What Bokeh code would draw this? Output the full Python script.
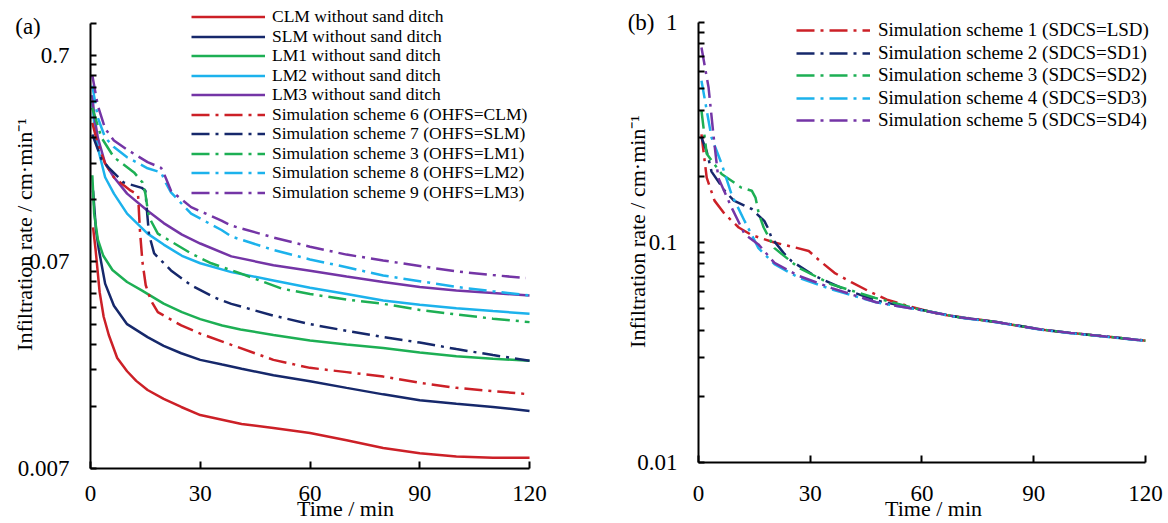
from bokeh.plotting import figure
from bokeh.models import (Range1d, FixedTicker, CustomJSTickFormatter, Legend, LegendItem)
from bokeh.layouts import row, column
from bokeh.embed import file_html
from bokeh.resources import INLINE

# ---------------- data : panel (a) ----------------
clm_t = [0.7, 1.4, 2.5, 3.6, 5, 7.3, 10, 12.5, 15.6, 20, 24.8, 30, 41.3, 50, 60, 70, 80, 90, 100, 110, 120]
clm_v = [0.103, 0.080, 0.050, 0.038, 0.031, 0.0240, 0.0207, 0.0186, 0.0168, 0.0152, 0.0139, 0.0127,
         0.0115, 0.0110, 0.0104, 0.0096, 0.0088, 0.0083, 0.0080, 0.0079, 0.0079]

slm_t = [0.7, 1.5, 2.3, 4, 6.4, 10, 15.6, 20, 24.8, 30, 36, 41.3, 50, 60, 70, 80, 90, 100, 110, 120]
slm_v = [0.155, 0.100, 0.080, 0.055, 0.043, 0.0350, 0.0303, 0.0275, 0.0253, 0.0235, 0.0223, 0.0213,
         0.0198, 0.0185, 0.0172, 0.0160, 0.0150, 0.0144, 0.0139, 0.0133]

lm1_t = [0.5, 1, 2, 3.5, 6, 10, 14, 20, 25, 30, 36, 41, 50, 60, 70, 80, 90, 100, 110, 120]
lm1_v = [0.184, 0.120, 0.090, 0.075, 0.064, 0.056, 0.051, 0.044, 0.040, 0.037, 0.0345, 0.0330,
         0.0310, 0.0292, 0.0279, 0.0268, 0.0255, 0.0245, 0.0238, 0.0233]

lm2_t = [0.5, 1, 2, 4, 6.4, 10, 15.6, 20, 25, 30, 38.5, 50, 60, 70, 80, 90, 100, 110, 120]
lm2_v = [0.42, 0.33, 0.25, 0.18, 0.15, 0.12, 0.096, 0.085, 0.075, 0.069, 0.0625, 0.057, 0.0525,
         0.049, 0.0456, 0.0435, 0.0418, 0.0405, 0.0393]

lm3_t = [0.5, 1, 2, 4, 6.4, 10, 15.6, 20, 25, 30, 38.5, 50, 60, 70, 80, 90, 100, 110, 120]
lm3_v = [0.45, 0.36, 0.28, 0.21, 0.18, 0.15, 0.124, 0.108, 0.095, 0.086, 0.0745, 0.0675, 0.0635,
         0.0595, 0.056, 0.053, 0.051, 0.0495, 0.0482]

s6_t = [0.5, 2, 4, 6.4, 9, 11, 13, 13.5, 14.2, 15.1, 16.5, 18.4, 24.8, 30, 38.5, 50, 60, 70, 80, 90, 100, 110, 120]
s6_v = [0.33, 0.26, 0.21, 0.18, 0.165, 0.155, 0.148, 0.10, 0.07, 0.054, 0.0456, 0.040, 0.0345, 0.0315,
        0.0278, 0.0235, 0.0215, 0.0205, 0.0195, 0.0182, 0.0172, 0.0166, 0.016]

s7_t = [0.5, 3, 5, 9, 14, 15, 15.5, 16, 17.4, 22, 27.5, 34, 38.5, 50, 60, 70, 80, 90, 100, 110, 120]
s7_v = [0.29, 0.22, 0.20, 0.17, 0.16, 0.155, 0.12, 0.095, 0.077, 0.0637, 0.054, 0.047, 0.0439, 0.0385,
        0.035, 0.0325, 0.0303, 0.0285, 0.0265, 0.0248, 0.0233]

s3_t = [0.5, 3, 6.4, 11.9, 14.2, 15, 15.8, 16.5, 18.4, 22, 27.5, 33, 41, 52.3, 60, 70, 80, 90, 100, 110, 120]
s3_v = [0.39, 0.28, 0.225, 0.19, 0.17, 0.15, 0.12, 0.111, 0.096, 0.088, 0.077, 0.069, 0.0616, 0.052,
        0.049, 0.046, 0.0439, 0.041, 0.039, 0.0372, 0.0358]

s8_t = [0.5, 2, 4, 6.4, 10, 15.6, 19.3, 20.5, 22, 27.5, 35.8, 38.5, 50, 60, 70, 80, 90, 100, 110, 120]
s8_v = [0.50, 0.35, 0.28, 0.252, 0.225, 0.199, 0.19, 0.17, 0.152, 0.12, 0.100, 0.093, 0.080, 0.072,
        0.066, 0.0602, 0.0565, 0.053, 0.0505, 0.0482]

s9_t = [0.5, 2, 4, 6.4, 10, 15.6, 19.3, 20.5, 22, 27.5, 35.8, 38.5, 50, 60, 70, 80, 90, 100, 110, 119]
s9_v = [0.56, 0.40, 0.31, 0.271, 0.245, 0.213, 0.20, 0.18, 0.155, 0.129, 0.111, 0.105, 0.092, 0.083,
        0.076, 0.0712, 0.067, 0.063, 0.0605, 0.0585]

# ---------------- data : panel (b) ----------------
b1_t = [0.8, 2.2, 4.3, 7.0, 10.8, 14.3, 20.4, 24.8, 29.6, 32.4, 36.5, 41, 45.7, 50.6, 56.3, 65, 80, 92, 100, 110, 120]
b1_v = [0.31, 0.197, 0.155, 0.135, 0.117, 0.108, 0.100, 0.096, 0.0915, 0.083, 0.0728, 0.066, 0.0601,
        0.055, 0.0514, 0.0471, 0.0435, 0.0402, 0.0388, 0.0373, 0.0358]

b2_t = [0.8, 2.2, 3.5, 7.0, 9.5, 14.3, 17.7, 18.8, 19.6, 23.1, 25, 31.2, 39.1, 47.7, 60, 70, 80, 92, 100, 110, 120]
b2_v = [0.30, 0.26, 0.21, 0.172, 0.155, 0.142, 0.125, 0.115, 0.105, 0.0887, 0.0823, 0.0705, 0.0614,
        0.0545, 0.0493, 0.0457, 0.0435, 0.0402, 0.0388, 0.0373, 0.0358]

b3_t = [0.8, 2.2, 6.2, 11.4, 14.3, 15.3, 16.2, 17.5, 20.4, 26.9, 35.8, 47.3, 60, 70, 80, 92, 100, 110, 120]
b3_v = [0.397, 0.253, 0.205, 0.178, 0.172, 0.16, 0.135, 0.117, 0.0943, 0.0768, 0.0644, 0.0561,
        0.0493, 0.0457, 0.0435, 0.0402, 0.0388, 0.0373, 0.0358]

b4_t = [0.8, 3.5, 6.2, 8.9, 12.4, 16.1, 20.4, 26.9, 35.8, 47.7, 60, 70, 80, 92, 100, 110, 120]
b4_v = [0.544, 0.30, 0.228, 0.165, 0.125, 0.0943, 0.0797, 0.0692, 0.0612, 0.0535, 0.0492, 0.0456,
        0.0434, 0.0401, 0.0387, 0.0372, 0.0357]

b5_t = [0.8, 2.7, 4.0, 5.3, 8.9, 12.4, 16.1, 20.4, 26.9, 35.8, 47.7, 60, 70, 80, 92, 100, 110, 120]
b5_v = [0.77, 0.507, 0.31, 0.197, 0.144, 0.109, 0.098, 0.0808, 0.0705, 0.062, 0.0535, 0.0492,
        0.0457, 0.0435, 0.0402, 0.0388, 0.0373, 0.0358]

# ---------------- ticks and tick labels ----------------
NB = "\u00a0"
x_ticks = [0, 30, 60, 90, 120]
a_label_ticks = [0.007, 0.07, 0.7, 0.972]
a_tick_labels = ["0.007", "0.07", "0.7", "(a)" + NB * 5]
a_tick_marks = [0.007, 0.014, 0.021, 0.028, 0.035, 0.042, 0.049, 0.056, 0.063,
                0.07, 0.14, 0.21, 0.28, 0.35, 0.42, 0.49, 0.56, 0.63, 0.7, 1.0]
b_label_ticks = [0.01, 0.1, 1]
b_tick_labels = ["0.01", "0.1", "(b)" + NB * 2 + "1"]
b_tick_marks = [0.01, 0.02, 0.03, 0.04, 0.05, 0.06, 0.07, 0.08, 0.09,
                0.1, 0.2, 0.3, 0.4, 0.5, 0.6, 0.7, 0.8, 0.9, 1.0]

RED = "#CC2027"
NAVY = "#16286B"
GREEN = "#1DAF54"
LBLUE = "#1CB2EC"
PURPLE = "#7435A6"
DASH = "18 6 3 6"
SERIF = "Liberation Serif"
YTITLE = "Infiltration rate / cm\u00b7min\u207b\u00b9"

a_series = [
    ("CLM without sand ditch", clm_t, clm_v, RED, "solid"),
    ("SLM without sand ditch", slm_t, slm_v, NAVY, "solid"),
    ("LM1 without sand ditch", lm1_t, lm1_v, GREEN, "solid"),
    ("LM2 without sand ditch", lm2_t, lm2_v, LBLUE, "solid"),
    ("LM3 without sand ditch", lm3_t, lm3_v, PURPLE, "solid"),
    ("Simulation scheme 6 (OHFS=CLM)", s6_t, s6_v, RED, DASH),
    ("Simulation scheme 7 (OHFS=SLM)", s7_t, s7_v, NAVY, DASH),
    ("Simulation scheme 3 (OHFS=LM1)", s3_t, s3_v, GREEN, DASH),
    ("Simulation scheme 8 (OHFS=LM2)", s8_t, s8_v, LBLUE, DASH),
    ("Simulation scheme 9 (OHFS=LM3)", s9_t, s9_v, PURPLE, DASH),
]
b_series = [
    ("Simulation scheme 1 (SDCS=LSD)", b1_t, b1_v, RED, DASH),
    ("Simulation scheme 2 (SDCS=SD1)", b2_t, b2_v, NAVY, DASH),
    ("Simulation scheme 3 (SDCS=SD2)", b3_t, b3_v, GREEN, DASH),
    ("Simulation scheme 4 (SDCS=SD3)", b4_t, b4_v, LBLUE, DASH),
    ("Simulation scheme 5 (SDCS=SD4)", b5_t, b5_v, PURPLE, DASH),
]


def make_panel(width, height, bl, bb, x_end, y_lo, y_hi, y_top, label_ticks, tick_labels,
               tick_marks, series, xlab_standoff, xtitle_standoff, ytitle_standoff,
               leg_x, leg_y0, leg_dy, leg_font, leg_h, glyph_w, leg_standoff):
    p = figure(width=width, height=height, x_range=Range1d(0, x_end), y_range=Range1d(y_lo, y_hi),
               y_axis_type="log", output_backend="svg", toolbar_location=None,
               min_border_left=bl, min_border_right=0, min_border_top=0, min_border_bottom=bb)
    p.xgrid.visible = False
    p.ygrid.visible = False
    p.outline_line_color = None
    p.background_fill_color = "white"
    p.border_fill_color = "white"

    p.xaxis.ticker = FixedTicker(ticks=x_ticks, minor_ticks=[])
    p.yaxis.ticker = FixedTicker(ticks=label_ticks, minor_ticks=tick_marks)
    p.yaxis.formatter = CustomJSTickFormatter(
        args=dict(vals=label_ticks, labs=tick_labels),
        code="const i = vals.indexOf(tick); return i >= 0 ? labs[i] : String(tick);")
    p.xaxis.bounds = (0, 120)
    p.yaxis.bounds = (y_lo, y_top)
    for ax in (p.xaxis[0], p.yaxis[0]):
        ax.axis_line_width = 2
        ax.axis_line_color = "black"
        ax.major_tick_out = 0
        ax.minor_tick_out = 0
        ax.major_tick_line_width = 2
        ax.minor_tick_line_width = 2
        ax.major_tick_line_color = "black"
        ax.minor_tick_line_color = "black"
        ax.major_label_text_font = SERIF
        ax.major_label_text_font_size = "23px"
        ax.major_label_text_color = "black"
        ax.axis_label_text_font = SERIF
        ax.axis_label_text_font_size = "22px"
        ax.axis_label_text_font_style = "normal"
        ax.axis_label_text_color = "black"
    p.xaxis.major_tick_in = 7
    p.yaxis.major_tick_in = 0
    p.yaxis.major_tick_line_color = None
    p.yaxis.minor_tick_in = 6
    p.yaxis.major_label_standoff = 21
    p.xaxis.major_label_standoff = xlab_standoff
    p.xaxis.axis_label = "Time / min"
    p.xaxis.axis_label_standoff = xtitle_standoff
    p.yaxis.axis_label = YTITLE
    p.yaxis.axis_label_standoff = ytitle_standoff

    for i, (name, t, v, col, dash) in enumerate(series):
        r = p.line(t, v, line_color=col, line_width=2.5, line_dash=dash)
        leg = Legend(items=[LegendItem(label=name, renderers=[r])],
                     location=(leg_x, leg_y0 - leg_dy * i),
                     label_text_font=SERIF, label_text_font_size=leg_font,
                     label_text_color="black", glyph_width=glyph_w, glyph_height=leg_h,
                     label_height=leg_h, spacing=0, padding=0, margin=0,
                     label_standoff=leg_standoff, border_line_color=None,
                     background_fill_alpha=0)
        p.add_layout(leg)
    return p


# left panel: axis x 0..120 -> px 90..529 ; y 0.007 at 468, 1.0 at 22
# legend rows centred at 17.3 + 19.5*i (page px); legend item ~19.4 px tall
pa = make_panel(600, 523, 90, 55, 139.4, 0.007, 1.292, 1.0, a_label_ticks, a_tick_labels,
                a_tick_marks, a_series, 17, -8, -25,
                101, 468 - 17.3 - 9.7, 19.5, "17.5px", 19, 74, 7)

# right panel: axis x 0..120 -> px 698..1145 ; y 0.01 at 462, 1 at 22
# legend rows centred at 30.7 + 22.5*i
pb = make_panel(568, 523, 98, 61, 126.2, 0.01, 1.2589, 1.0, b_label_ticks, b_tick_labels,
                b_tick_marks, b_series, 23, -8, -25,
                98, 462 - 30.7 - 10.5, 22.5, "19px", 20, 74, 8)

layout = row(pa, column(pb))
open("out.html", "w").write(file_html(layout, INLINE))
